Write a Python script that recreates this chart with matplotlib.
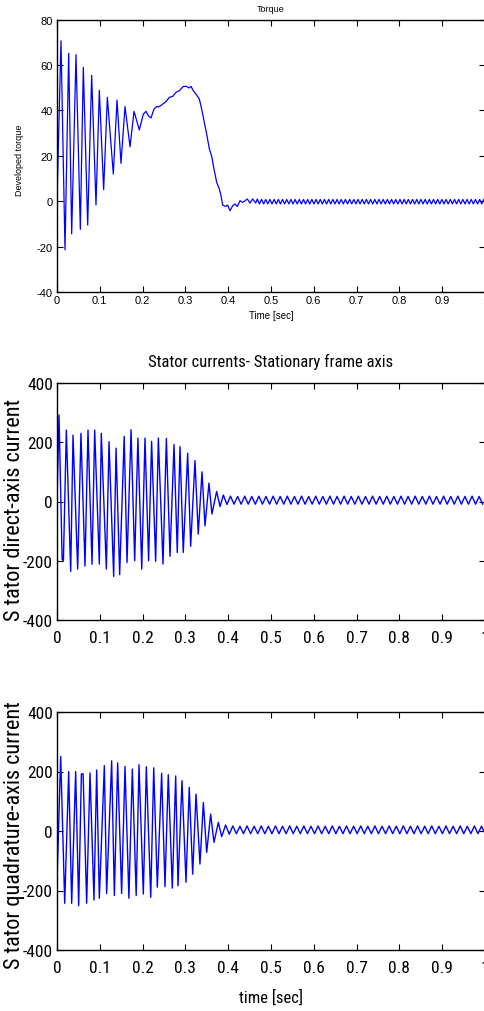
import numpy as np
import matplotlib
matplotlib.use("Agg")
import matplotlib.pyplot as plt
from matplotlib import font_manager as fm

plt.rcParams["axes.unicode_minus"] = False

# ---- torque (transient part, extremes) ----
torque_t = [0.0, 0.0093, 0.0187, 0.0273, 0.0343, 0.0444, 0.0545, 0.0615, 0.0717, 0.081,
            0.0911, 0.0989, 0.109, 0.1176, 0.1316, 0.1402, 0.1495, 0.1589, 0.1706, 0.18,
            0.1923, 0.2017, 0.208, 0.2134, 0.2196, 0.2266, 0.2329, 0.2391, 0.2469, 0.2547,
            0.2625, 0.2703, 0.278, 0.2858, 0.2952, 0.303, 0.3084, 0.3131, 0.3185, 0.3263,
            0.3326, 0.338, 0.3443, 0.3497, 0.356, 0.3614, 0.3668, 0.3731, 0.3793, 0.3832,
            0.3871, 0.3941, 0.3988, 0.4042, 0.4105, 0.4159, 0.4213, 0.4276, 0.4338, 0.4393,
            0.4447, 0.451, 0.4572, 0.4642, 0.4681]
torque_v = [0, 70.7, -21.4, 65.2, -14.4, 64.6, -12.4, 59.0, -10.5, 55.5,
            -1.6, 48.9, 5.1, 45.8, 12.0, 44.6, 16.7, 41.7, 24.0, 39.6,
            31.4, 38.4, 39.6, 37.7, 36.7, 40.6, 41.7, 41.7, 42.8, 43.9,
            45.8, 46.2, 48.0, 48.7, 50.6, 50.6, 49.9, 50.6, 48.7, 46.8,
            45.0, 40.6, 34.8, 29.6, 23.0, 19.8, 14.2, 8.3, 5.4, 2.4,
            -1.7, -2.3, -1.7, -4.2, -2.0, -1.2, -2.3, 0.2, -0.5, 0.2,
            1.0, -0.8, 1.0, -0.8, 1.0]
# steady-state ripple of the torque, one value per half period
torque_ss_start = 0.473
torque_ss_step = 0.0049
torque_ss = [-1.2, 0.8, -1.2, 0.8, -1.2, 0.8, -1.2, 0.8, -1.2, 0.8, -1.2, 0.8,
             -1.2, 0.8, -1.2, 0.8, -1.2, 0.8, -1.2, 0.8, -1.2, 0.8, -1.2, 0.8,
             -1.2, 0.8, -1.2, 0.8, -1.2, 0.8, -1.2, 0.8, -1.2, 0.8, -1.2, 0.8,
             -1.2, 0.8, -1.2, 0.8, -1.2, 0.8, -1.2, 0.8, -1.2, 0.8, -1.2, 0.8,
             -1.2, 0.8, -1.2, 0.8, -1.2, 0.8, -1.2, 0.8, -1.2, 0.8, -1.2, 0.8,
             -1.2, 0.8, -1.2, 0.8, -1.2, 0.8, -1.2, 0.8, -1.2, 0.8, -1.2, 0.8,
             -1.2, 0.8, -1.2, 0.8, -1.2, 0.8, -1.2, 0.8, -1.2, 0.8, -1.2, 0.8,
             -1.2, 0.8, -1.2, 0.8, -1.2, 0.8, -1.2, 0.8, -1.2, 0.8, -1.2, 0.8,
             -1.2, 0.8, -1.2, 0.8, -1.2, 0.8, -1.2, 0.8, -1.2, 0.8, -1.2, 0.8]

# ---- stator direct-axis current ----
id_t = [0.0, 0.0047, 0.012, 0.015, 0.0218, 0.032, 0.0374, 0.0483, 0.056, 0.0654,
        0.0724, 0.0818, 0.088, 0.0989, 0.1035, 0.1153, 0.1215, 0.1324, 0.138, 0.1464,
        0.157, 0.1636, 0.173, 0.1815, 0.189, 0.198, 0.2056, 0.214, 0.221, 0.2305,
        0.2368, 0.2477, 0.2555, 0.264, 0.2734, 0.281, 0.2874, 0.295, 0.3053, 0.3123,
        0.3224, 0.330, 0.3388, 0.3458, 0.355, 0.362, 0.373, 0.381, 0.3886]
id_v = [0, 292, -195, -200, 241, -236, 224, -228, 230, -218,
        241, -212, 241, -211, 230, -228, 202, -253, 180, -247,
        220, -206, 242, -200, 214, -228, 214, -200, 203, -202,
        214, -211, 213, -185, 192, -172, 185, -172, 163, -151,
        138, -110, 100, -82, 62, -42, 34, -17, 22]
id_ss_start = 0.397
id_ss_step = 0.0083
id_ss = [-10, 18, -9, 17, -9, 18, -9, 17, -9, 18, -9, 17,
         -9, 18, -9, 17, -9, 18, -9, 17, -9, 18, -9, 17,
         -9, 18, -9, 17, -9, 18, -9, 17, -9, 18, -9, 17,
         -9, 18, -9, 17, -9, 18, -9, 17, -9, 18, -9, 17,
         -9, 18, -9, 17, -9, 18, -9, 17, -9, 18, -9, 17,
         -9, 18, -9, 17, -9, 18, -9, 17, -9, 18, -9, 17, -9]

# ---- stator quadrature-axis current ----
iq_t = [0.0, 0.0086, 0.018, 0.0273, 0.0343, 0.0436, 0.0506, 0.057, 0.061, 0.0693,
        0.0771, 0.0864, 0.0927, 0.0989, 0.1106, 0.116, 0.1277, 0.134, 0.1417, 0.151,
        0.1589, 0.168, 0.176, 0.185, 0.1916, 0.2017, 0.2087, 0.219, 0.226, 0.2344,
        0.2445, 0.2523, 0.26, 0.2694, 0.2773, 0.2827, 0.292, 0.3014, 0.309, 0.317,
        0.3248, 0.334, 0.342, 0.3497, 0.359, 0.3668, 0.377, 0.3847, 0.394]
iq_v = [-170, 251, -243, 200, -243, 200, -251, 192, 192, -243,
        195, -232, 205, -226, 220, -210, 236, -217, 229, -210,
        217, -226, 208, -217, 223, -212, 216, -223, 212, -189,
        194, -187, 189, -192, 185, -184, 169, -172, 147, -145,
        124, -111, 96, -72, 57, -38, 29, -19, 20]
iq_ss_start = 0.4025
iq_ss_step = 0.0083
iq_ss = [-11, 17, -9, 16, -9, 17, -9, 16, -9, 17, -9, 16,
         -9, 17, -9, 16, -9, 17, -9, 16, -9, 17, -9, 16,
         -9, 17, -9, 16, -9, 17, -9, 16, -9, 17, -9, 16,
         -9, 17, -9, 16, -9, 17, -9, 16, -9, 17, -9, 16,
         -9, 17, -9, 16, -9, 17, -9, 16, -9, 17, -9, 16,
         -9, 17, -9, 16, -9, 17, -9, 16, -9, 17, -9, 16, -9]

xticks = [0, 0.1, 0.2, 0.3, 0.4, 0.5, 0.6, 0.7, 0.8, 0.9, 1]
xticklabels = ["0", "0.1", "0.2", "0.3", "0.4", "0.5", "0.6", "0.7", "0.8", "0.9", "1"]

# the lower plots use a condensed face; take whichever one is installed
installed = {(f.name, f.stretch) for f in fm.fontManager.ttflist}
names = {n for n, s in installed}
if "Liberation Sans Narrow" in names:
    narrow = fm.FontProperties(family="Liberation Sans Narrow")
    tick_size, lab_size = 12.5, 16
elif "Roboto Condensed" in names:
    narrow = fm.FontProperties(family="Roboto Condensed")
    tick_size, lab_size = 12.5, 16
elif ("DejaVu Sans", "condensed") in installed:
    narrow = fm.FontProperties(family="DejaVu Sans", stretch="condensed")
    tick_size, lab_size = 10.5, 13.5
else:
    narrow = fm.FontProperties(family="Liberation Sans")
    tick_size, lab_size = 10.5, 14
small = fm.FontProperties(family="Liberation Sans")


def join(t, v, start, step, ss):
    tt = list(t) + list(start + step * np.arange(len(ss)))
    vv = list(v) + list(ss)
    return np.array(tt), np.array(vv)


def style_axes(ax, fp, size, xpad, ypad):
    ax.set_xlim(0, 1)
    ax.set_xticks(xticks)
    ax.set_xticklabels(xticklabels)
    ax.tick_params(direction="in", top=True, right=True, length=4, width=0.8)
    ax.tick_params(axis="x", pad=xpad)
    ax.tick_params(axis="y", pad=ypad)
    for lab in ax.get_xticklabels() + ax.get_yticklabels():
        lab.set_fontproperties(fp)
        lab.set_fontsize(size)
    for s in ax.spines.values():
        s.set_linewidth(1.0)


fig = plt.figure(figsize=(4.84, 10.12), dpi=100)
H = 1012.0
W = 484.0


def add_axes(top_px, bottom_px):
    return fig.add_axes([57 / W, 1 - bottom_px / H, 428 / W, (bottom_px - top_px) / H])


# torque
ax1 = add_axes(20.7, 293)
t, v = join(torque_t, torque_v, torque_ss_start, torque_ss_step, torque_ss)
ax1.plot(t, v, color="#0000ff", lw=0.9)
ax1.set_ylim(-40, 80)
ax1.set_yticks([-40, -20, 0, 20, 40, 60, 80])
style_axes(ax1, small, 8, 2.5, 3)
fig.text(271 / W, 1 - 9.5 / H, "Torque", ha="center", va="center", fontsize=6.5,
         fontproperties=small)
fig.text(271 / W, 1 - 316 / H, "Time [sec]", ha="center", va="center", fontsize=7,
         fontproperties=small)
fig.text(20 / W, 1 - 160 / H, "Developed torque", ha="center", va="center", rotation=90,
         fontsize=6.5, fontproperties=small)


def label(x, y, s, size, rot=0):
    txt = fig.text(x / W, 1 - y / H, s, ha="center", va="center", rotation=rot,
                   fontproperties=narrow)
    txt.set_fontsize(size)
    return txt


# direct-axis current
ax2 = add_axes(384, 621)
t, v = join(id_t, id_v, id_ss_start, id_ss_step, id_ss)
ax2.plot(t, v, color="#0000ff", lw=1.0)
ax2.set_ylim(-400, 400)
ax2.set_yticks([-400, -200, 0, 200, 400])
style_axes(ax2, narrow, tick_size, 7.5, 3)
label(271, 362, "Stator currents- Stationary frame axis", 12)
label(15, 510, "S tator direct-axis current", lab_size, 90)

# quadrature-axis current
ax3 = add_axes(713, 951)
t, v = join(iq_t, iq_v, iq_ss_start, iq_ss_step, iq_ss)
ax3.plot(t, v, color="#0000ff", lw=1.0)
ax3.set_ylim(-400, 400)
ax3.set_yticks([-400, -200, 0, 200, 400])
style_axes(ax3, narrow, tick_size, 7.5, 3)
label(15, 835, "S tator quadrature-axis current", lab_size, 90)
label(271, 998, "time [sec]", 12)

fig.savefig("out.png", dpi=100)
